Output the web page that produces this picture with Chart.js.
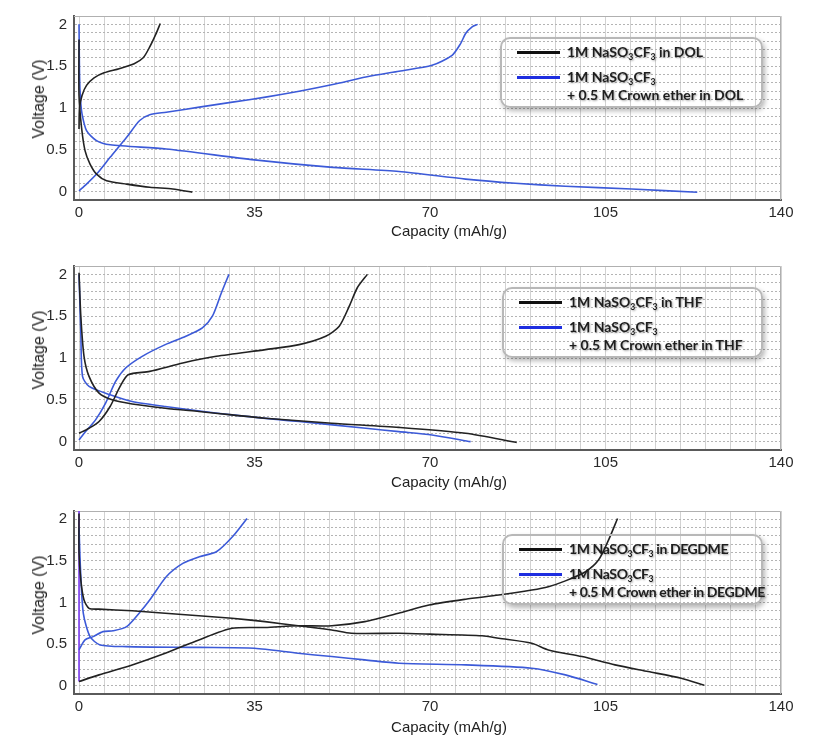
<!DOCTYPE html>
<html>
<head>
<meta charset="utf-8">
<script src="https://cdn.jsdelivr.net/npm/chart.js@4.4.1/dist/chart.umd.min.js"></script>
<style>
  body { margin: 0; background: #fff; }
  #wrap { position: relative; width: 816px; height: 743px; overflow: hidden; }
  canvas { position: absolute; left: 0; }
  .ytitle, .xtitle {
    position: absolute; font: 15px "Liberation Sans", Arial, sans-serif; color: #222;
    white-space: nowrap; transform: translate(-50%, -50%);
  }
  .ytitle { transform: translate(-50%, -50%) rotate(-90deg); font-size: 16px; }
  .legend {
    position: absolute; box-sizing: border-box; border: 2px solid #b8b8b8; border-radius: 10px;
    box-shadow: 2px 3px 5px rgba(0,0,0,0.28);
  }
  .legend .sw { position: absolute; left: 15px; width: 43px; height: 3px; }
  .legend .lbl {
    position: absolute; left: 65px; font: bold 14px Lato, "Open Sans", sans-serif; color: #1e1e1e;
    white-space: nowrap; line-height: 16px; text-shadow: 1px 1px 2px rgba(0,0,0,0.35);
  }
  .legend sub { font-size: 0.62em; vertical-align: -0.3em; line-height: 0; }
</style>
</head>
<body>
<div id="wrap"></div>
<script>
// Données : [capacité (mAh/g), tension (V)]
var solvants = ['DOL', 'THF', 'DEGDME'];
var xTickLabels = [0, 35, 70, 105, 140];
var yTickLabels = [0, 0.5, 1, 1.5, 2];

// DOL
var dolSelDecharge = [[0,1.82],[0,1.15],[0.5,0.77],[1.2,0.49],[2.2,0.33],[3.5,0.21],[5.5,0.13],[9.5,0.09],[14.1,0.052],[18.7,0.032],[22.6,-0.006]];
var dolSelCharge = [[0,0.75],[0.1,1.0],[0.6,1.15],[1.5,1.27],[3,1.36],[5,1.42],[8,1.47],[11,1.53],[12.8,1.6],[14.1,1.73],[15.3,1.88],[16.2,2.01]];
var dolEtherDecharge = [[0,2.0],[0.1,1.4],[0.3,1.1],[0.6,0.93],[1.5,0.73],[3.5,0.61],[6.2,0.56],[17.4,0.51],[35,0.38],[50.6,0.29],[63.8,0.24],[77.1,0.15],[87,0.10],[97,0.064],[110.2,0.032],[123.3,-0.008]];
var dolEtherCharge = [[0,0.01],[1.5,0.09],[3.5,0.21],[6.2,0.41],[9.5,0.65],[12.1,0.85],[14.1,0.92],[17.4,0.95],[24,1.01],[30.6,1.07],[37.2,1.13],[43.9,1.2],[50.6,1.28],[57.2,1.37],[63.8,1.44],[70.4,1.51],[74.4,1.63],[76.1,1.77],[77.1,1.89],[78.4,1.97],[79.5,2.0]];

// THF
var thfSelDecharge = [[0,2.02],[0.36,1.5],[1.0,1.02],[2.0,0.78],[4.0,0.58],[6.6,0.50],[10.6,0.45],[17.2,0.40],[23.9,0.36],[30.5,0.32],[37.1,0.28],[50.4,0.22],[63.8,0.17],[77.1,0.10],[87.3,-0.01]];
var thfSelCharge = [[0,0.10],[2.0,0.16],[4.0,0.24],[6.2,0.42],[8.2,0.66],[9.8,0.80],[14.1,0.84],[20.7,0.94],[27.4,1.02],[37.2,1.10],[43.9,1.16],[49.2,1.26],[51.9,1.38],[53.9,1.62],[55.5,1.84],[57.5,2.0]];
var thfEtherDecharge = [[0,2.0],[0.36,1.3],[0.7,0.78],[2.0,0.66],[6.2,0.56],[10.6,0.48],[17.2,0.42],[30.5,0.32],[43.9,0.24],[57.2,0.16],[63.8,0.12],[70.4,0.08],[78.1,0.0]];
var thfEtherCharge = [[0,0.02],[1.3,0.12],[3.3,0.26],[5.3,0.46],[7.3,0.72],[9.3,0.88],[12.6,1.02],[17.2,1.16],[21.3,1.26],[24.6,1.36],[26.6,1.50],[28.4,1.78],[29.9,2.0]];

// DEGDME
var degSelDecharge = [[0,2.07],[0,1.6],[0.36,1.27],[1.0,1.03],[2.0,0.93],[4.0,0.92],[10.6,0.90],[17.2,0.87],[23.9,0.84],[30.5,0.81],[37.1,0.77],[43.7,0.72],[50.4,0.67],[54.3,0.63],[63.8,0.63],[70,0.62],[80.4,0.60],[83.7,0.57],[90.3,0.51],[93.6,0.43],[100.3,0.35],[106.9,0.25],[113.5,0.17],[120.1,0.09],[124.7,0.005]];
var degSelCharge = [[0,0.05],[4.0,0.13],[10.6,0.25],[17.2,0.39],[23.9,0.55],[30.5,0.69],[37.1,0.70],[43.7,0.72],[50.4,0.72],[57,0.77],[63.7,0.87],[69.8,0.97],[77.1,1.04],[83.7,1.09],[90.3,1.15],[93.6,1.19],[97,1.26],[101,1.37],[103.6,1.51],[105.6,1.75],[107.4,2.01]];
var degEtherDecharge = [[0,1.9],[0.3,1.39],[0.86,0.87],[2.2,0.59],[4.2,0.49],[9.5,0.47],[23.9,0.46],[35,0.45],[43.7,0.39],[50.4,0.35],[57,0.31],[63.8,0.27],[77.1,0.25],[90.3,0.21],[97,0.13],[103.4,0.015]];
var degEtherCharge = [[0,0.43],[1.2,0.55],[2.8,0.59],[4.8,0.65],[6.8,0.66],[9.5,0.71],[12.1,0.88],[14.1,1.03],[17.4,1.31],[20.7,1.47],[24,1.55],[27.4,1.61],[30.6,1.79],[33.5,2.01]];
var degVerticale = [[0,2.1],[0,0.05]];

var NOIR = '#222222';
var BLEU = '#3c5ad8';

var panneaux = [
  { top: 0, h: 245, padTop: 15, padBottom: 5, legTop: 37, legLeft: 500, serre: 0,
    series: [[dolSelDecharge, NOIR], [dolSelCharge, NOIR], [dolEtherDecharge, BLEU], [dolEtherCharge, BLEU]] },
  { top: 250, h: 245, padTop: 16, padBottom: 5, legTop: 287, legLeft: 502, serre: 0,
    series: [[thfSelDecharge, NOIR], [thfSelCharge, NOIR], [thfEtherDecharge, BLEU], [thfEtherCharge, BLEU]] },
  { top: 495, h: 248, padTop: 16, padBottom: 9, legTop: 534, legLeft: 502, serre: -0.4,
    series: [[degSelDecharge, NOIR], [degSelCharge, NOIR], [degEtherDecharge, BLEU], [degEtherCharge, BLEU], [degVerticale, '#7b3cf0']] }
];

// grille : toutes les 5 mAh/g et 0,1 V
var xGrille = [];
for (var i = 0; i <= 28; i++) xGrille.push(i * 5);
var yGrille = [];
for (var j = 0; j <= 20; j++) yGrille.push(j / 10);

var cadre = {
  id: 'cadre',
  beforeDatasetsDraw: function (chart) {
    var a = chart.chartArea, ctx = chart.ctx;
    ctx.save();
    ctx.strokeStyle = '#b0b0b0';
    ctx.lineWidth = 1;
    ctx.beginPath();
    ctx.moveTo(a.left, a.top + 0.5);
    ctx.lineTo(a.right - 0.5, a.top + 0.5);
    ctx.lineTo(a.right - 0.5, a.bottom);
    ctx.stroke();
    ctx.restore();
  }
};

Chart.defaults.font.family = '"Liberation Sans", Arial, sans-serif';
Chart.defaults.font.size = 15;
Chart.defaults.color = '#2a2a2a';

var wrap = document.getElementById('wrap');

panneaux.forEach(function (p, k) {
  var canvas = document.createElement('canvas');
  canvas.width = 816;
  canvas.height = p.h;
  canvas.style.top = p.top + 'px';
  wrap.appendChild(canvas);

  var noms = [
    '1M NaSO₃CF₃ in ' + solvants[k],
    '1M NaSO₃CF₃ + 0.5 M Crown ether in ' + solvants[k]
  ];

  var datasets = p.series.map(function (s, n) {
    return {
      label: n < 2 ? noms[0] : (n < 4 ? noms[1] : ''),
      data: s[0].map(function (pt) { return { x: pt[0], y: pt[1] }; }),
      showLine: true,
      borderColor: s[1],
      borderWidth: 1.6,
      pointRadius: 0,
      tension: 0.25,
      fill: false
    };
  });

  new Chart(canvas, {
    type: 'scatter',
    data: { datasets: datasets },
    options: {
      responsive: false,
      animation: false,
      devicePixelRatio: 1,
      layout: { padding: { left: 10, right: 35, top: p.padTop, bottom: p.padBottom } },
      plugins: { legend: { display: false }, tooltip: { enabled: false } },
      scales: {
        x: {
          type: 'linear', min: -1, max: 140,
          afterBuildTicks: function (s) { s.ticks = xGrille.map(function (v) { return { value: v }; }); },
          afterFit: function (s) { s.height = 40; },
          ticks: {
            autoSkip: false, maxRotation: 0, padding: 4,
            callback: function (v) { return xTickLabels.indexOf(v) >= 0 ? String(v) : ''; }
          },
          grid: { color: '#d2d2d2', drawTicks: false },
          border: { color: '#5a5a5a', width: 2 }
        },
        y: {
          type: 'linear', min: -0.1, max: 2.1,
          afterBuildTicks: function (s) { s.ticks = yGrille.map(function (v) { return { value: v }; }); },
          afterFit: function (s) { s.width = 64; },
          ticks: {
            autoSkip: false, padding: 7,
            callback: function (v) {
              var r = Math.round(v * 10) / 10;
              return yTickLabels.indexOf(r) >= 0 ? String(r) : '';
            }
          },
          grid: { color: '#b4b4b4', drawTicks: false },
          border: { color: '#5a5a5a', width: 2, dash: [2, 2] }
        }
      }
    },
    plugins: [cadre]
  });

  // titres des axes
  var yt = document.createElement('div');
  yt.className = 'ytitle';
  yt.textContent = 'Voltage (V)';
  yt.style.left = '39px';
  yt.style.top = (p.top + p.padTop + 84) + 'px';
  wrap.appendChild(yt);

  var xt = document.createElement('div');
  xt.className = 'xtitle';
  xt.textContent = 'Capacity (mAh/g)';
  xt.style.left = '449px';
  xt.style.top = (p.top + p.padTop + 215) + 'px';
  wrap.appendChild(xt);

  // légende
  var leg = document.createElement('div');
  leg.className = 'legend';
  leg.style.left = p.legLeft + 'px';
  leg.style.top = p.legTop + 'px';
  leg.style.width = (763 - p.legLeft) + 'px';
  leg.style.height = '71px';
  var ls = 'letter-spacing:' + p.serre + 'px;';
  leg.innerHTML =
    '<span class="sw" style="top:12px;background:#111"></span>' +
    '<div class="lbl" style="top:5px;' + ls + '">1M NaSO<sub>3</sub>CF<sub>3</sub> in ' + solvants[k] + '</div>' +
    '<span class="sw" style="top:37px;background:#1e2ee0"></span>' +
    '<div class="lbl" style="top:30px;' + ls + '">1M NaSO<sub>3</sub>CF<sub>3</sub></div>' +
    '<div class="lbl" style="top:48px;' + ls + '">+ 0.5 M Crown ether in ' + solvants[k] + '</div>';
  wrap.appendChild(leg);
});
</script>
</body>
</html>
